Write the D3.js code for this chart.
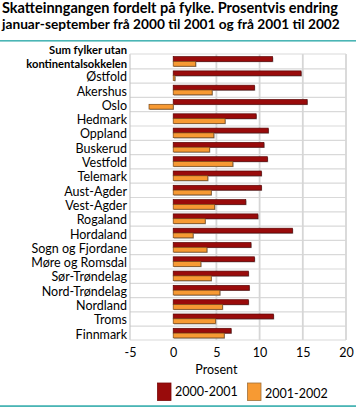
<!DOCTYPE html>
<html><head><meta charset="utf-8">
<script src="https://cdn.jsdelivr.net/npm/d3@7"></script>
<style>body{margin:0;background:#fff;} svg{display:block;font-family:Lato,"Open Sans",sans-serif;}</style>
</head><body>
<script>
const categories = ["Sum fylker utan kontinentalsokkelen","Østfold","Akershus","Oslo","Hedmark","Oppland","Buskerud","Vestfold","Telemark","Aust-Agder","Vest-Agder","Rogaland","Hordaland","Sogn og Fjordane","Møre og Romsdal","Sør-Trøndelag","Nord-Trøndelag","Nordland","Troms","Finnmark"];
const series2000_2001 = [11.5,14.8,9.4,15.5,9.6,11.0,10.5,10.9,10.2,10.2,8.4,9.8,13.8,9.0,9.4,8.7,8.8,8.7,11.6,6.7];
const series2001_2002 = [2.6,0.2,4.5,-2.8,6.0,4.7,4.2,6.9,4.0,4.4,4.8,3.7,2.3,3.9,3.2,4.4,5.4,5.7,4.9,5.9];
const seriesNames = ["2000-2001","2001-2002"];
const xTicks = [-5,0,5,10,15,20];
const titleLines = ["Skatteinngangen fordelt på fylke. Prosentvis endring","januar-september frå 2000 til 2001 og frå 2001 til 2002"];

const W=356,H=407;
const svg=d3.select("body").append("svg").attr("width",W).attr("height",H);
const colors=["#990b0b","#f79a33"];
const titleW=[336,338];

const titles=svg.selectAll(".title").data(titleLines).join("text")
  .attr("x",2).attr("y",(d,i)=>13+i*16.2)
  .attr("font-size",14.5).attr("font-weight","bold").attr("fill","#000")
  .text(d=>d);
titles.each(function(d,i){
  const w=this.getComputedTextLength();
  const fs=Math.min(15.5,14.5*titleW[i]/w);
  d3.select(this).attr("font-size",fs.toFixed(2));
});
svg.append("rect").attr("x",0).attr("y",40).attr("width",W).attr("height",1.6).attr("fill","#4ab5b5");
svg.append("rect").attr("x",0).attr("y",405.2).attr("width",W).attr("height",1.8).attr("fill","#4ab5b5");

const x=d3.scaleLinear().domain([-5,20]).range([130,346]);
const y=d3.scaleBand().domain(categories).range([54,340]);

const g=svg.append("g");
g.selectAll(".hg").data(categories.slice(1)).join("line")
  .attr("x1",130).attr("x2",346).attr("y1",d=>y(d)+0.5).attr("y2",d=>y(d)+0.5)
  .attr("stroke","#d9d9d9").attr("stroke-width",1.2);
g.selectAll(".vg").data(xTicks.filter(t=>t>0)).join("line")
  .attr("x1",d=>x(d)).attr("x2",d=>x(d)).attr("y1",54).attr("y2",340)
  .attr("stroke","#d6d6d6").attr("stroke-width",1.8);
g.append("line").attr("x1",130).attr("x2",130).attr("y1",54).attr("y2",340).attr("stroke","#bdbdbd").attr("stroke-width",1);
g.append("line").attr("x1",130).attr("x2",346).attr("y1",54).attr("y2",54).attr("stroke","#d9d9d9").attr("stroke-width",1);
g.append("line").attr("x1",130).attr("x2",346).attr("y1",340).attr("y2",340).attr("stroke","#d9d9d9").attr("stroke-width",1);

const bh=4.8;
const all=[series2000_2001,series2001_2002];
all.forEach((vals,si)=>{
  const data=categories.map((c,i)=>({c,v:vals[i]}));
  const off = si===0 ? 2.6 : 2.6+bh;
  svg.append("g").selectAll("rect").data(data).join("rect")
    .attr("x",d=>Math.min(x(0),x(d.v))+0.8).attr("y",d=>y(d.c)+off+0.8)
    .attr("width",d=>Math.abs(x(d.v)-x(0))).attr("height",bh)
    .attr("fill","#9a9a9a");
  svg.append("g").selectAll("rect").data(data).join("rect")
    .attr("x",d=>Math.min(x(0),x(d.v))).attr("y",d=>y(d.c)+off)
    .attr("width",d=>Math.abs(x(d.v)-x(0))).attr("height",bh)
    .attr("fill",colors[si]).attr("stroke",si===0?"#5a0505":"#7a4a1a").attr("stroke-width",0.7);
});

const lab=svg.append("g").attr("font-size",12.5).attr("fill","#000").attr("text-anchor","end");
categories.forEach((c,i)=>{
  if(i===0){
    lab.append("text").attr("font-weight","bold").attr("font-size",11.2).attr("x",127).attr("y",y(c)-0.2).text("Sum fylker utan");
    lab.append("text").attr("font-weight","bold").attr("font-size",11.2).attr("x",127).attr("y",y(c)+13.6).text("kontinentalsokkelen");
  } else {
    lab.append("text").attr("x",127).attr("y",y(c)+y.bandwidth()/2+5.8).text(c);
  }
});

const ax=svg.append("g").attr("transform","translate(0,340)")
  .call(d3.axisBottom(x).tickValues(xTicks).tickSize(0).tickPadding(8).tickFormat(d=>String(d)));
ax.select(".domain").remove();
ax.selectAll("text").attr("font-size",12.5).attr("fill","#000").attr("font-family","Lato,sans-serif");
svg.append("text").attr("x",x(5)).attr("y",373.5).attr("text-anchor","middle").attr("font-size",12.5).text("Prosent");

const lg=svg.append("g");
const lx=[157.5,247.5], ly=[383,383];
seriesNames.forEach((n,i)=>{
  lg.append("rect").attr("x",lx[i]).attr("y",ly[i]).attr("width",13.5).attr("height",17.5)
    .attr("fill",colors[i]).attr("stroke",i===0?"#7a0808":"#a0703a").attr("stroke-width",0.8);
  lg.append("text").attr("x",lx[i]+17.5).attr("y",i===0?395.5:397.5).attr("font-size",12.5).text(n);
});
</script>
</body></html>
